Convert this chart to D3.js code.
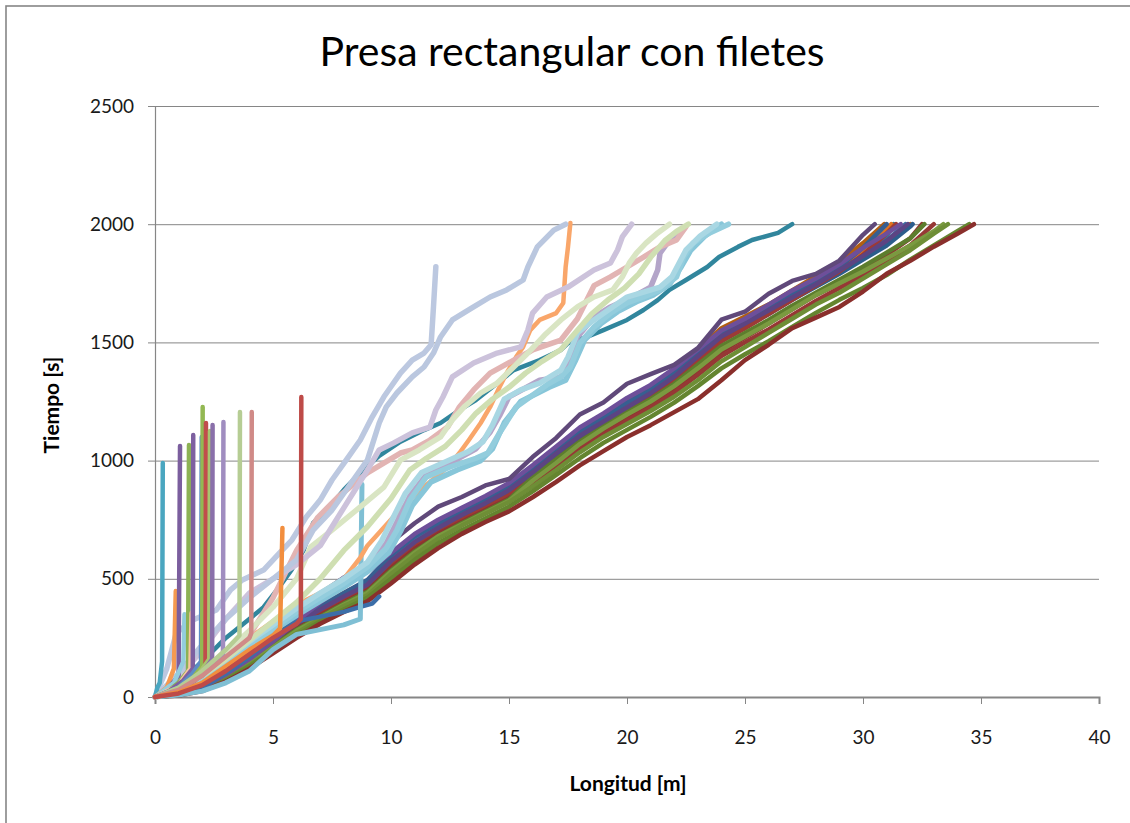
<!DOCTYPE html>
<html>
<head>
<meta charset="utf-8">
<script src="https://cdn.jsdelivr.net/npm/d3@7"></script>
<style>
  html, body { margin: 0; padding: 0; background: #fff; overflow: hidden; }
  svg { display: block; }
  text { font-family: Lato, "Open Sans", "Liberation Sans", sans-serif; }
</style>
</head>
<body>
<svg id="chart" width="1130" height="823"></svg>
<script>
// ---- axis ticks -------------------------------------------------------
const xTicks = [0, 5, 10, 15, 20, 25, 30, 35, 40];
const yTicks = [0, 500, 1000, 1500, 2000, 2500];

// ---- main trajectory band: time [s] at x = 0,1,2,... m, then end point at t = 2000
const bandGrid = d3.range(0, 36);
const band01 = [0,18,58,118,205,276,365,436,505,556,655,735,805,846,895,922,1015,1096,1195,1246,1325,1366,1405,1476,1596,1630,1706,1760,1790,1846,1955];
const band02 = [0,14,40,95,160,235,320,400,470,530,610,690,750,800,850,905,980,1060,1140,1200,1265,1320,1390,1470,1550,1600,1660,1720,1770,1830,1900,1960];
const band03 = [0,12,40,100,175,250,320,380,430,480,590,670,730,780,830,880,960,1050,1120,1190,1260,1310,1380,1470,1560,1610,1660,1720,1780,1840,1920];
const band04 = [0,15,45,100,165,235,300,355,410,460,560,640,700,755,810,870,940,1020,1095,1160,1220,1280,1350,1430,1510,1565,1620,1680,1735,1790,1850,1910,1990];
const band05 = [0,10,35,85,150,220,290,345,400,450,545,625,690,740,790,840,905,985,1060,1125,1185,1240,1300,1380,1460,1520,1580,1640,1700,1750,1810,1870,1940];
const band06 = [0,8,30,75,135,200,270,330,385,430,520,600,670,725,775,825,890,960,1035,1100,1155,1210,1270,1340,1420,1480,1540,1600,1660,1710,1770,1830,1890,1960];
const band07 = [0,10,32,80,140,210,280,335,390,440,530,610,680,730,780,830,915,990,1070,1135,1195,1250,1315,1390,1470,1525,1580,1640,1700,1750,1800,1855,1910,1970];
const band08 = [0,8,28,70,130,195,260,320,370,420,500,580,650,705,755,805,870,940,1010,1075,1130,1185,1245,1315,1390,1450,1505,1565,1625,1680,1730,1785,1850,1910,1970];
const band09 = [0,6,25,65,120,185,250,310,360,405,480,560,630,690,740,785,845,910,980,1040,1100,1150,1205,1260,1340,1425,1490,1560,1605,1650,1715,1790,1845,1905,1960];
const band10 = [0,12,42,95,165,235,305,360,415,465,565,645,705,760,815,875,950,1030,1105,1170,1230,1290,1360,1440,1520,1575,1635,1695,1750,1810,1870,1950];
const band11 = [0,16,50,110,185,255,325,385,440,495,600,680,735,785,835,890,965,1045,1120,1180,1245,1300,1370,1455,1535,1590,1645,1705,1760,1820,1900];
const band12 = [0,14,42,98,168,240,310,370,425,475,575,655,715,770,820,875,950,1030,1105,1165,1225,1285,1355,1440,1525,1580,1635,1690,1745,1805,1865,1930];
const band13 = [0,12,40,95,165,235,300,360,415,465,565,640,700,750,800,855,925,1005,1080,1145,1205,1265,1335,1420,1505,1560,1620,1680,1740,1800,1870,1960];
const band14 = [0,14,45,102,175,245,315,372,428,478,580,660,720,772,822,875,945,1025,1100,1165,1230,1290,1355,1435,1515,1570,1625,1685,1740,1795,1855,1920];
const band15 = [0,10,34,82,145,215,285,340,395,445,535,615,680,735,785,835,930,1005,1080,1145,1205,1260,1325,1405,1485,1540,1595,1655,1710,1765,1820,1880,1940];
const band16 = [0,15,48,105,178,250,318,375,430,480,585,662,720,770,820,872,945,1025,1100,1162,1222,1282,1350,1432,1515,1570,1628,1688,1745,1800,1862,1930];
const band17 = [0,12,40,98,170,250,330,385,440,490,590,668,725,775,828,882,955,1035,1110,1175,1240,1298,1365,1448,1530,1585,1640,1700,1755,1815,1880,1975];
const band18 = [0,9,32,80,145,212,280,338,392,442,532,612,675,728,778,828,895,972,1048,1112,1170,1225,1288,1362,1442,1500,1555,1615,1675,1730,1785,1845,1910];
const bandEnds = [30.5, 31.6, 30.9, 32.1, 32.5, 33.6, 33.4, 34.5, 34.7, 31.3, 31.0, 31.9, 31.4, 32.0, 32.6, 31.8, 31.2, 33.0];
const bandColors = ["#60497a","#6e4f9a","#b25e12","#2c5d8c","#8e3330","#6e8e36","#7a9a40","#64852f","#8a2f2c",
                    "#2e8099","#375f91","#5c4483","#9c3a36","#c0661a","#5d7d2d","#3f6fa3","#e0731f","#963835"];
const bandSeries = [band10, band17, band14, band03, band16, band04, band11, band13, band05, band18,
                    band15, band07, band06, band08, band09, band12, band02, band01];
const bandOrder  = [9, 16, 13, 2, 15, 3, 10, 12, 4, 17, 14, 6, 5, 7, 8, 11, 1, 0];

// ---- faster trajectories [x m, t s]
const shortBlue  = [[0,0],[1,10],[2,40],[3,100],[4,170],[5,250],[6,320],[7,340],[8,360],[8.7,381],[9.2,395],[9.5,425]];
const lowCyan    = [[0,0],[1,8],[2,25],[3,60],[4,110],[5,200],[6,265],[7,285],[8,305],[8.7,330],[8.77,900]];
const steel1     = [[0,0],[0.5,120],[0.9,270],[1.6,326],[2.6,368],[3.2,453],[3.7,495],[4.6,537],[5.4,622],[5.8,664],[6.4,760],[7,833],[7.5,918],[8.1,1002],[8.7,1087],[9.2,1184],[9.7,1270],[10.4,1370],[10.9,1425],[11.4,1455],[11.7,1490],[11.8,1650],[11.9,1820]];
const steel2     = [[0,0],[1,100],[2,220],[3,330],[4,420],[5,500],[6,580],[6.7,706],[7.5,791],[8.4,918],[9,1002],[9.5,1159],[9.8,1227],[10.25,1286],[10.9,1354],[11.4,1396],[11.8,1455],[12.1,1523],[12.6,1595],[13.5,1650],[14.2,1692],[14.9,1722],[15.6,1764],[15.8,1819],[16.2,1904],[16.9,1975],[17.4,2000]];
const lavender   = [[0,0],[1,80],[2,200],[3,330],[4,440],[5,500],[6,560],[7,640],[8,800],[8.5,880],[9,960],[9.5,1045],[10.1,1074],[10.9,1117],[11.65,1142],[11.9,1214],[12.2,1269],[12.6,1354],[13.5,1413],[14.5,1455],[15.5,1481],[15.8,1552],[16,1624],[16.6,1692],[17.5,1734],[18.6,1806],[19.3,1836],[19.6,1891],[19.8,1946],[20.2,2000]];
const peachLine  = [[0,0],[1,40],[2,110],[3,180],[4,250],[5,320],[6,390],[7,440],[8,500],[8.7,590],[9,640],[10.1,761],[11.1,863],[12.4,973],[12.9,1032],[13.3,1087],[13.8,1159],[14.2,1227],[14.6,1311],[14.9,1370],[15.3,1438],[15.6,1481],[15.9,1552],[16.3,1595],[17,1624],[17.3,1667],[17.4,1819],[17.5,1904],[17.6,2005]];
const paleGreen1 = [[0,0],[1,40],[2,110],[3,190],[4,280],[5,380],[6,500],[6.6,635],[7.5,706],[8.7,804],[9.7,888],[10.4,1002],[11.2,1045],[12.1,1100],[12.6,1172],[13.1,1227],[13.8,1286],[14.5,1328],[15.2,1396],[15.8,1455],[16.5,1530],[17.2,1595],[17.9,1650],[18.6,1692],[19.4,1722],[19.8,1777],[20.1,1836],[20.4,1878],[20.8,1920],[21.3,1963],[21.8,2000]];
const paleGreen2 = [[0,0],[1,30],[2,90],[3,160],[4,240],[5,320],[6,400],[7,500],[8,620],[9,720],[10,840],[10.8,960],[11.5,1010],[12.3,1060],[13,1130],[13.6,1200],[14.3,1260],[15,1310],[15.7,1370],[16.4,1420],[17.2,1470],[17.8,1540],[18.5,1620],[19.2,1680],[19.9,1730],[20.5,1790],[21,1860],[21.6,1930],[22.1,1970],[22.6,2000]];
const pinkLine   = [[0,0],[1,40],[2,110],[3,180],[4,260],[5,420],[6,620],[6.9,760],[7.8,850],[9,948],[10.4,1032],[10.9,1045],[11.65,1087],[12.4,1142],[12.9,1227],[13.5,1299],[14.2,1370],[15.2,1425],[16,1468],[17.2,1510],[17.9,1600],[18.6,1740],[19.3,1777],[20,1819],[20.7,1861],[21.4,1904],[22.1,1933],[22.5,1990]];
const lilacLine  = [[0,0],[1,30],[2,90],[3,160],[4,230],[5,300],[6,370],[7,430],[8,500],[9,560],[9.8,650],[10.3,750],[10.8,850],[11.5,940],[12.5,990],[13.6,1050],[14.2,1120],[14.6,1190],[15,1270],[16.3,1340],[17.2,1354],[17.5,1413],[17.9,1523],[18.6,1607],[19.3,1650],[20.25,1692],[21,1734],[21.3,1806],[21.4,1878],[21.8,1933],[22.4,1980]];
const skyLine1   = [[0,0],[1,25],[2,80],[3,150],[4,220],[5,290],[6,360],[7,420],[8,480],[9,550],[9.8,630],[10.25,706],[10.8,833],[11.5,931],[12.5,973],[13.6,1010],[14.1,1032],[14.6,1117],[15.3,1227],[16.6,1320],[17.2,1354],[17.6,1396],[18,1497],[18.6,1565],[19.3,1624],[20,1667],[20.7,1692],[21.4,1722],[22.1,1777],[22.4,1861],[22.8,1920],[23.5,1963],[24.3,2000]];
const skyLine2   = [[0,0],[1,30],[2,90],[3,160],[4,235],[5,305],[6,375],[7,440],[8,500],[9,570],[9.6,660],[10.1,760],[10.6,860],[11.3,950],[12.2,990],[13.3,1040],[13.9,1080],[14.3,1150],[14.8,1260],[15.5,1299],[16.3,1328],[17.2,1383],[17.5,1438],[17.9,1540],[18.6,1595],[20,1692],[21.4,1734],[21.9,1777],[22.5,1891],[23.1,1950],[23.8,2000]];
const skyLine3   = [[0,0],[1,20],[2,70],[3,140],[4,210],[5,280],[6,345],[7,405],[8,465],[9,530],[9.9,610],[10.4,700],[10.9,810],[11.7,910],[12.8,960],[13.8,1000],[14.3,1050],[14.8,1160],[15.5,1250],[16.7,1310],[17.4,1340],[17.8,1420],[18.2,1510],[18.9,1580],[19.6,1630],[20.4,1672],[21.1,1700],[21.8,1745],[22.3,1820],[22.7,1890],[23.3,1950],[24.0,2000]];
const tealLine   = [[0,0],[1,60],[2,150],[3,250],[4,330],[4.6,380],[5.3,470],[5.8,540],[6.3,622],[6.7,736],[7.3,791],[8,876],[8.7,948],[9.5,1020],[10.4,1080],[11.4,1129],[12.1,1159],[12.9,1214],[13.6,1256],[14.3,1311],[15.2,1383],[16.3,1425],[17.2,1468],[17.5,1497],[18.3,1523],[19,1552],[20,1595],[20.7,1637],[21.3,1679],[21.8,1722],[22.5,1764],[23.4,1819],[23.9,1861],[24.7,1904],[25.3,1933],[26.4,1963],[27.0,2000]];

// ---- trajectories that stall and climb vertically
const spikeTeal    = [[0,0],[0.1,40],[0.2,60],[0.3,150],[0.33,990]];
const spikeOrange1 = [[0,0],[0.5,40],[0.8,120],[0.88,448]];
const spikePurple1 = [[0,0],[0.5,30],[1.0,90],[1.06,1062]];
const spikeCyan    = [[0,0],[0.8,60],[1.2,150],[1.25,350]];
const spikeGreen1  = [[0,0],[0.5,20],[1,60],[1.4,110],[1.44,1066]];
const spikePeach   = [[0,0],[1,50],[1.5,120],[1.55,355]];
const spikePurple2 = [[0,0],[0.6,25],[1.2,70],[1.6,120],[1.62,1108]];
const spikeBlue    = [[0,0],[1,40],[1.6,100],[1.95,150],[1.98,1100]];
const spikeGreen2  = [[0,0],[1,30],[1.6,80],[2.0,130],[2.02,1227]];
const spikeRed1    = [[0,0],[1,25],[1.7,70],[2.14,120],[2.16,1159]];
const spikeGreen3  = [[0,0],[1,30],[1.8,90],[2.3,160],[2.33,1125]];
const spikePurple3 = [[0,0],[1,30],[2,100],[2.42,160],[2.44,1151]];
const spikeLilac   = [[0,0],[1,30],[2,90],[2.88,180],[2.9,1163]];
const spikeGreen4  = [[0,0],[1,40],[2,110],[3,200],[3.58,260],[3.6,1206]];
const spikeRose    = [[0,0],[1,30],[2,90],[3,170],[4,250],[4.08,270],[4.1,1206]];
const spikeOrange2 = [[0,0],[1,20],[2,60],[3,130],[4,200],[5,260],[5.3,290],[5.4,715]];
const spikeRed2    = [[0,0],[1,15],[2,50],[3,110],[4,180],[5,250],[6,310],[6.18,330],[6.2,1269]];

// ---- layout
const svg = d3.select("#chart");
const W = 1130, H = 823;
const x = d3.scaleLinear().domain([0, 40]).range([155, 1099]);
const y = d3.scaleLinear().domain([0, 2500]).range([697, 106]);
const axisGray = "#868686";

// outer chart frame (only its top and left edges fall inside the page)
svg.append("rect").attr("x", 6).attr("y", 6).attr("width", W + 10).attr("height", H + 10)
  .attr("fill", "#fff").attr("stroke", axisGray).attr("stroke-width", 1.6);

// title
svg.append("text").attr("x", 572).attr("y", 66).attr("text-anchor", "middle")
  .attr("font-size", 41).attr("fill", "#000").text("Presa rectangular con filetes");

// horizontal gridlines
svg.append("g").attr("transform", `translate(${x(0)},0)`)
  .call(d3.axisLeft(y).tickValues(yTicks.slice(1)).tickSize(-(x(40) - x(0))).tickFormat(""))
  .call(g => g.select(".domain").remove())
  .call(g => g.selectAll("line").attr("stroke", axisGray).attr("stroke-width", 1));

// y axis
svg.append("g").attr("transform", `translate(${x(0)},0)`)
  .call(d3.axisLeft(y).tickValues(yTicks).tickSize(7).tickPadding(14).tickFormat(d3.format("d")))
  .call(g => g.select(".domain").attr("stroke", axisGray).attr("stroke-width", 1.2))
  .call(g => g.selectAll("line").attr("stroke", axisGray))
  .call(g => g.selectAll("text").attr("font-size", 19).attr("fill", "#1a1a1a")
    .attr("font-family", "Lato, 'Open Sans', sans-serif"));

// x axis
svg.append("g").attr("transform", `translate(0,${y(0)})`)
  .call(d3.axisBottom(x).tickValues(xTicks).tickSize(7).tickPadding(34).tickFormat(d3.format("d")))
  .call(g => g.select(".domain").attr("stroke", axisGray).attr("stroke-width", 2))
  .call(g => g.selectAll("line").attr("stroke", axisGray))
  .call(g => g.selectAll("text").attr("font-size", 19).attr("fill", "#1a1a1a")
    .attr("font-family", "Lato, 'Open Sans', sans-serif").attr("dy", "0.3em"));

// axis titles
svg.append("text").attr("transform", "translate(59,405) rotate(-90)").attr("text-anchor", "middle")
  .attr("font-size", 21).attr("font-weight", "bold").attr("fill", "#000").text("Tiempo [s]");
svg.append("text").attr("x", 628).attr("y", 791).attr("text-anchor", "middle")
  .attr("font-size", 21).attr("font-weight", "bold").attr("fill", "#000").text("Longitud [m]");

// ---- trajectories
const line = d3.line().x(d => x(d[0])).y(d => y(d[1]));
const plot = svg.append("g").attr("fill", "none")
  .attr("stroke-linejoin", "round").attr("stroke-linecap", "round");

function draw(points, color, width) {
  plot.append("path").attr("d", line(points)).attr("stroke", color).attr("stroke-width", width);
}

// band: grid values followed by the final point at 2000 s
bandSeries.forEach((vals, i) => {
  const k = bandOrder[i];
  const pts = vals.map((t, j) => [bandGrid[j], t]);
  pts.push([bandEnds[k], 2000]);
  draw(pts, bandColors[k], 4.5);
});

draw(shortBlue, "#3c6ea8", 4.5);
draw(lowCyan, "#7fbfd4", 5);
draw(tealLine, "#31869d", 4.5);
draw(peachLine, "#f9a66a", 4.5);
draw(lilacLine, "#b4a5c9", 5.5);
draw(skyLine3, "#87c6d9", 5.5);
draw(skyLine1, "#93cddd", 5.5);
draw(skyLine2, "#a9d7e3", 5.5);
draw(pinkLine, "#e2b4b3", 5.5);
draw(paleGreen2, "#cfdfb2", 5.5);
draw(paleGreen1, "#d9e5c3", 5.5);
draw(lavender, "#ccc2db", 5.5);
draw(steel2, "#bac7df", 5.5);
draw(steel1, "#bcc8e0", 5.5);

draw(spikeTeal, "#4aa6c0", 4.5);
draw(spikeOrange1, "#f59a50", 4.5);
draw(spikePurple1, "#7b5e9e", 4.5);
draw(spikeCyan, "#93cddd", 4.5);
draw(spikeGreen1, "#8db255", 4.5);
draw(spikePeach, "#fac6a0", 4.5);
draw(spikePurple2, "#7d60a0", 4.5);
draw(spikeBlue, "#5b8cc6", 4.5);
draw(spikeGreen2, "#93b853", 4.5);
draw(spikeRed1, "#c04e4b", 4.5);
draw(spikeGreen3, "#a9c46f", 4.5);
draw(spikePurple3, "#8a70aa", 4.5);
draw(spikeLilac, "#a08dc0", 4.5);
draw(spikeGreen4, "#b6cd94", 4.5);
draw(spikeRose, "#d08a87", 4.5);
draw(spikeOrange2, "#f28e3e", 4.5);
draw(spikeRed2, "#be4b48", 4.5);
</script>
</body>
</html>
